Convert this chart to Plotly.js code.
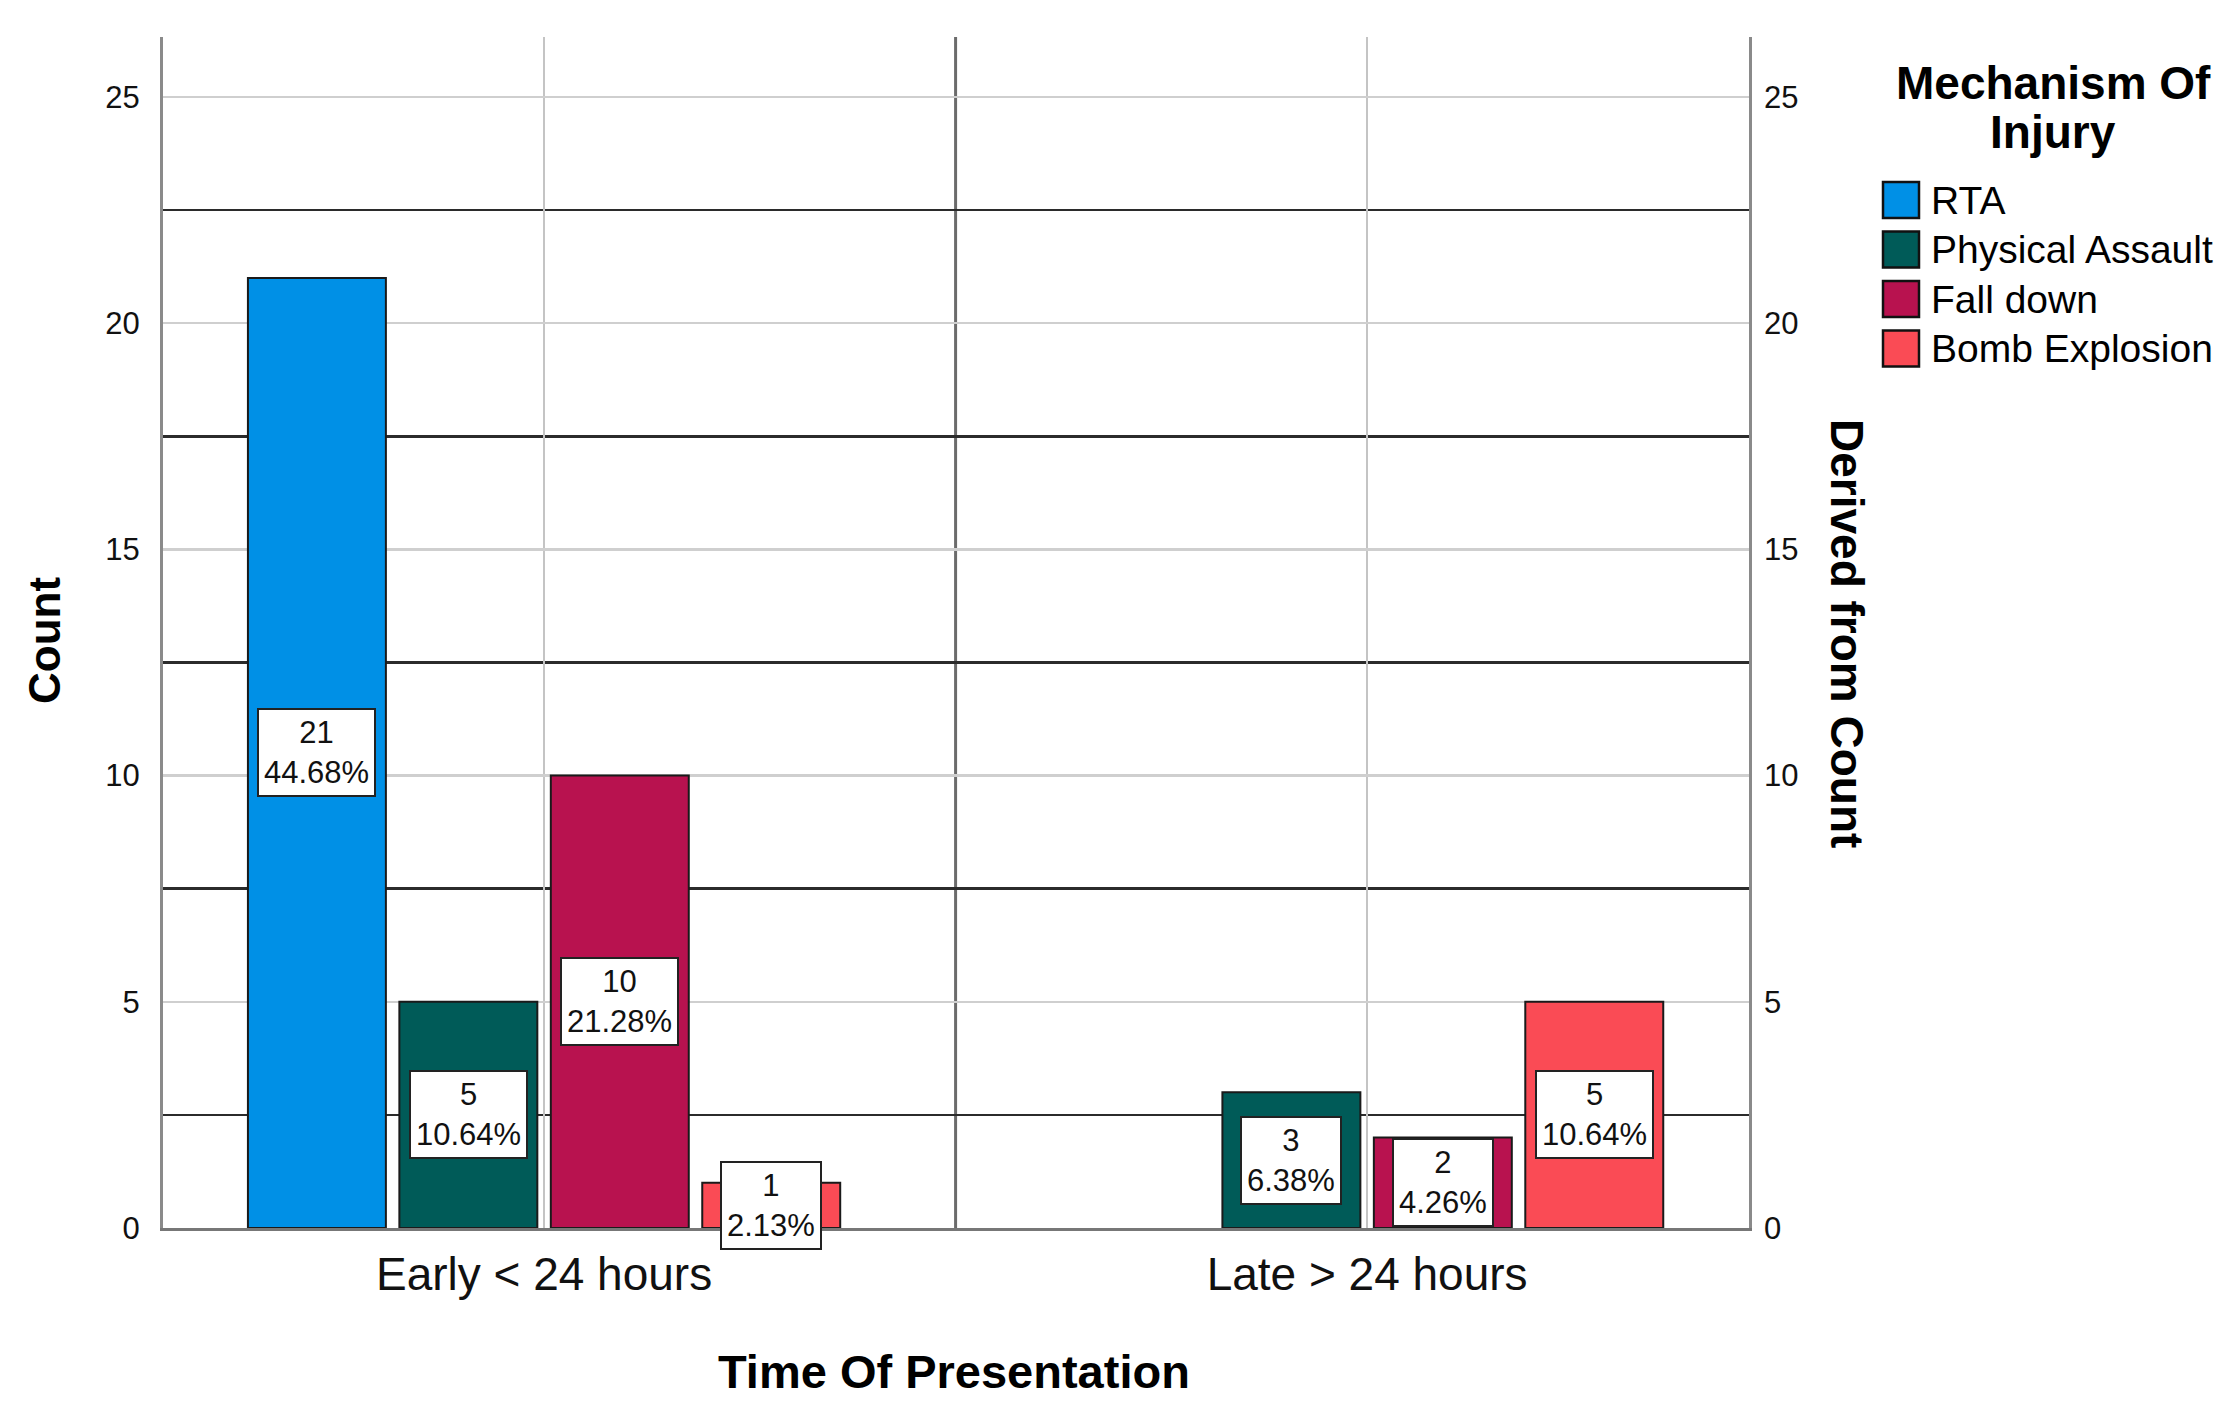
<!DOCTYPE html>
<html>
<head>
<meta charset="utf-8">
<script src="https://cdn.plot.ly/plotly-3.0.1.min.js"></script>
<style>html,body{margin:0;padding:0;background:#fff;}#chart{width:2240px;height:1419px;}</style>
</head>
<body>
<div id="chart"></div>
<script>
// ---- data ----
const categories = ['Early < 24 hours', 'Late > 24 hours'];
const seriesNames = ['RTA', 'Physical Assault', 'Fall down', 'Bomb Explosion'];
const countRTA = [21, null];
const countPhysical = [5, 3];
const countFall = [10, 2];
const countBomb = [1, 5];
const pctRTA = ['44.68%', null];
const pctPhysical = ['10.64%', '6.38%'];
const pctFall = ['21.28%', '4.26%'];
const pctBomb = ['2.13%', '10.64%'];
const yTicks = [0, 5, 10, 15, 20, 25];

// ---- style ----
const colors = ['#0090E6', '#005B58', '#B8124F', '#FA4B55'];
const FONT = 'Arial, "Liberation Sans", sans-serif';
const L = 163, R = 1749, T = 37, B = 1228, W = 2240, H = 1419;
const px = x => (x - L) / (R - L);
const py = y => (B - y) / (B - T);
const bargap = 0.264, bargroupgap = 0.089;

const counts = [countRTA, countPhysical, countFall, countBomb];
const pcts = [pctRTA, pctPhysical, pctFall, pctBomb];

const traces = counts.map((c, i) => ({
  type: 'bar', x: categories, y: c, name: seriesNames[i],
  marker: {color: colors[i], line: {color: '#1a1a1a', width: 2}},
  hoverinfo: 'skip', showlegend: false
}));
traces.push({type: 'scatter', x: [], y: [], yaxis: 'y2', hoverinfo: 'skip', showlegend: false});

const annotations = [];
const slot = (1 - bargap) / seriesNames.length;
counts.forEach((c, i) => {
  c.forEach((v, k) => {
    if (v === null || v === undefined) return;
    annotations.push({
      xref: 'x', yref: 'y', x: k + (i - (seriesNames.length - 1) / 2) * slot, y: v / 2,
      text: v + '<br>' + pcts[i][k], showarrow: false,
      font: {family: FONT, size: 31, color: '#111'},
      bgcolor: '#ffffff', bordercolor: '#222', borderwidth: 2, borderpad: 5,
      xanchor: 'center', yanchor: 'middle'
    });
  });
});

// axis titles
annotations.push({xref: 'paper', yref: 'paper', x: px(954), y: py(1371), text: '<b>Time Of Presentation</b>',
  showarrow: false, font: {family: FONT, size: 47, color: '#000'}, xanchor: 'center', yanchor: 'middle'});
annotations.push({xref: 'paper', yref: 'paper', x: px(44), y: py(640), text: '<b>Count</b>', textangle: -90,
  showarrow: false, font: {family: FONT, size: 44, color: '#000'}, xanchor: 'center', yanchor: 'middle'});
annotations.push({xref: 'paper', yref: 'paper', x: px(1847), y: py(633), text: '<b>Derived from Count</b>', textangle: 90,
  showarrow: false, font: {family: FONT, size: 46, color: '#000'}, xanchor: 'center', yanchor: 'middle'});

// legend (custom)
annotations.push({xref: 'paper', yref: 'paper', x: px(2053), y: py(83), text: '<b>Mechanism Of</b>',
  showarrow: false, font: {family: FONT, size: 46, color: '#000'}, xanchor: 'center', yanchor: 'middle'});
annotations.push({xref: 'paper', yref: 'paper', x: px(2053), y: py(132), text: '<b>Injury</b>',
  showarrow: false, font: {family: FONT, size: 46, color: '#000'}, xanchor: 'center', yanchor: 'middle'});
const shapes = [{type: 'line', xref: 'x', yref: 'paper', x0: 0.5, x1: 0.5, y0: 0, y1: 1,
  line: {color: '#6b6b6b', width: 3}, layer: 'below'}];
const legendY0 = 200, legendStep = 49.5, box = 36;
seriesNames.forEach((n, i) => {
  const cy = legendY0 + i * legendStep;
  shapes.push({type: 'rect', xref: 'paper', yref: 'paper', x0: px(1883), x1: px(1883 + box),
    y0: py(cy + box / 2), y1: py(cy - box / 2), fillcolor: colors[i], line: {color: '#111', width: 2.5}});
  annotations.push({xref: 'paper', yref: 'paper', x: px(1929), y: py(cy), text: n, showarrow: false,
    font: {family: FONT, size: 39, color: '#000'}, xanchor: 'left', yanchor: 'middle'});
});

const yr = [0, (B - T) / 45.24];
const layout = {
  width: W, height: H, paper_bgcolor: '#fff', plot_bgcolor: '#fff',
  margin: {l: L, r: W - R, t: T, b: H - B, pad: 0},
  barmode: 'group', bargap: bargap, bargroupgap: bargroupgap,
  showlegend: false,
  font: {family: FONT, color: '#000'},
  xaxis: {type: 'category', range: [-0.463, 1.464], showgrid: true, gridcolor: '#c4c4c4', gridwidth: 2.5,
    showline: true, linecolor: '#777', linewidth: 2.5, ticks: '', zeroline: false,
    tickfont: {family: FONT, size: 46, color: '#111'}, ticklabelstandoff: 4, fixedrange: true},
  yaxis: {range: yr, tickvals: yTicks, showgrid: true, gridcolor: '#cfcfcf', gridwidth: 2.5,
    minor: {tick0: 2.5, dtick: 5, showgrid: true, gridcolor: '#2b2b2b', gridwidth: 2.5, ticks: ''},
    showline: true, mirror: true, linecolor: '#8a8a8a', linewidth: 3, zeroline: false, ticks: '',
    tickfont: {family: FONT, size: 31, color: '#111'}, ticklabelstandoff: 14, fixedrange: true},
  yaxis2: {overlaying: 'y', side: 'right', anchor: 'x', range: yr, tickvals: yTicks, showgrid: false,
    zeroline: false, showline: false, ticks: '', tickfont: {family: FONT, size: 31, color: '#111'},
    ticklabelstandoff: 14, fixedrange: true},
  annotations: annotations, shapes: shapes
};
Plotly.newPlot('chart', traces, layout, {staticPlot: true, displayModeBar: false});
</script>
</body>
</html>
